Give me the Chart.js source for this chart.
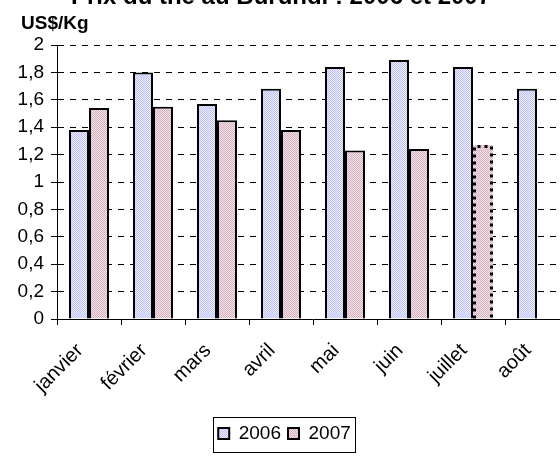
<!DOCTYPE html>
<html>
<head>
<meta charset="utf-8">
<script src="https://cdn.jsdelivr.net/npm/chart.js@4"></script>
<style>
  html, body { margin: 0; padding: 0; background: #fff; overflow: hidden; }
  #cadre { width: 572px; height: 461px; position: relative; }
</style>
</head>
<body>
<div id="cadre"><canvas id="grafico"></canvas></div>
<script>
// mois (categories)
const mois = ["janvier", "février", "mars", "avril", "mai", "juin", "juillet", "août"];
// prix en US$/Kg
const prix2006 = [1.38, 1.80, 1.57, 1.68, 1.84, 1.89, 1.84, 1.68];
const prix2007 = [1.54, 1.55, 1.45, 1.38, 1.23, 1.24, 1.27, null];
const annees = ["2006", "2007"];
// graduations de l'axe Y
const graduations = [0, 0.2, 0.4, 0.6, 0.8, 1, 1.2, 1.4, 1.6, 1.8, 2];
const titre = "Prix du thé au Burundi : 2006 et 2007";
const unite = "US$/Kg";
const police = "'Liberation Sans', Arial, sans-serif";

// petit motif en pointillé pour remplir les barres
function motif(c1, c2){
  const m = document.createElement("canvas");
  m.width = 2; m.height = 2;
  const c = m.getContext("2d");
  c.fillStyle = c2; c.fillRect(0, 0, 2, 2);
  c.fillStyle = c1; c.fillRect(0, 0, 1, 1); c.fillRect(1, 1, 1, 1);
  return c.createPattern(m, "repeat");
}
const bleu = motif("#c0c0f8", "#ececff");
const rose = motif("#d4b0c0", "#f3e4ea");

const textes = {
  id: "textes",
  afterDraw(chart){
    const ctx = chart.ctx;
    ctx.save();
    ctx.fillStyle = "#000";
    ctx.font = "bold 24px " + police;
    ctx.textAlign = "center";
    ctx.textBaseline = "alphabetic";
    ctx.fillText(titre, 281, 4);
    ctx.font = "bold 19px " + police;
    ctx.textAlign = "left";
    ctx.fillText(unite, 21, 29);
    // cadre de la legende
    const boxes = chart.legend.legendHitBoxes;
    if (boxes && boxes.length){
      const g = boxes[0].left - 5;
      const d = boxes[boxes.length - 1].left + boxes[boxes.length - 1].width + 4;
      const h = boxes[0].top - 7;
      const b = boxes[0].top + boxes[0].height + 9;
      ctx.strokeStyle = "#000";
      ctx.lineWidth = 1;
      ctx.strokeRect(Math.round(g) + 0.5, Math.round(h) + 0.5, Math.round(d - g), Math.round(b - h));
    }
    ctx.restore();
  },
  afterDatasetsDraw(chart){
    // barre de juillet 2007 en pointillés
    const el = chart.getDatasetMeta(1).data[6];
    if (!el) return;
    const ctx = chart.ctx;
    const g = el.x - el.width / 2 + 1.5, d = el.x + el.width / 2 - 1.5;
    ctx.save();
    ctx.strokeStyle = "#000";
    ctx.lineWidth = 3;
    ctx.setLineDash([3, 4]);
    ctx.beginPath();
    ctx.moveTo(g, el.base);
    ctx.lineTo(g, el.y + 1.5);
    ctx.lineTo(d, el.y + 1.5);
    ctx.lineTo(d, el.base);
    ctx.stroke();
    ctx.restore();
  }
};

myChart = new Chart("grafico", {
  type: "bar",
  data: {
    labels: mois,
    datasets: [{
      label: annees[0],
      data: prix2006,
      backgroundColor: bleu,
      borderColor: "#000",
      borderWidth: 2
    },
    {
      label: annees[1],
      data: prix2007,
      backgroundColor: rose,
      borderColor: "#000",
      borderWidth: (c) => c.dataIndex === 6 ? 0 : 2
    }]
  },
  options: {
    responsive: true,
    maintainAspectRatio: false,
    animation: false,
    categoryPercentage: 0.625,
    barPercentage: 1,
    layout: { padding: { top: 45, left: 0, right: 3, bottom: 8 } },
    plugins: {
      title: { display: false },
      tooltip: { enabled: false },
      legend: {
        position: "bottom",
        labels: {
          color: "#000",
          font: { family: police, size: 19 },
          boxWidth: 11,
          boxHeight: 11,
          padding: 7
        }
      }
    },
    scales: {
      x: {
        grid: { offset: true, drawOnChartArea: false, drawTicks: true, tickLength: 6, color: "#000", tickColor: "#000" },
        border: { display: true, color: "#000", width: 1 },
        ticks: {
          autoSkip: false,
          minRotation: 45,
          maxRotation: 45,
          padding: 14,
          labelOffset: -9,
          color: "#000",
          font: { family: police, size: 20 }
        },
        afterFit(scale){ scale.height = 98; }
      },
      y: {
        min: 0,
        max: 2,
        afterBuildTicks(scale){ scale.ticks = graduations.map(v => ({ value: v })); },
        grid: {
          color: (c) => c.tick && c.tick.value === 0 ? "rgba(0,0,0,0)" : "#000",
          lineWidth: 1,
          drawTicks: true,
          tickLength: 6,
          tickColor: "#000",
          tickBorderDash: []
        },
        border: { display: true, color: "#000", width: 1, dash: [6, 6] },
        ticks: {
          padding: 7,
          color: "#000",
          font: { family: police, size: 19 },
          callback: (v) => String(Math.round(v * 10) / 10).replace(".", ",")
        },
        afterFit(scale){ scale.width = 57; }
      }
    }
  },
  plugins: [textes]
});
</script>
</body>
</html>
